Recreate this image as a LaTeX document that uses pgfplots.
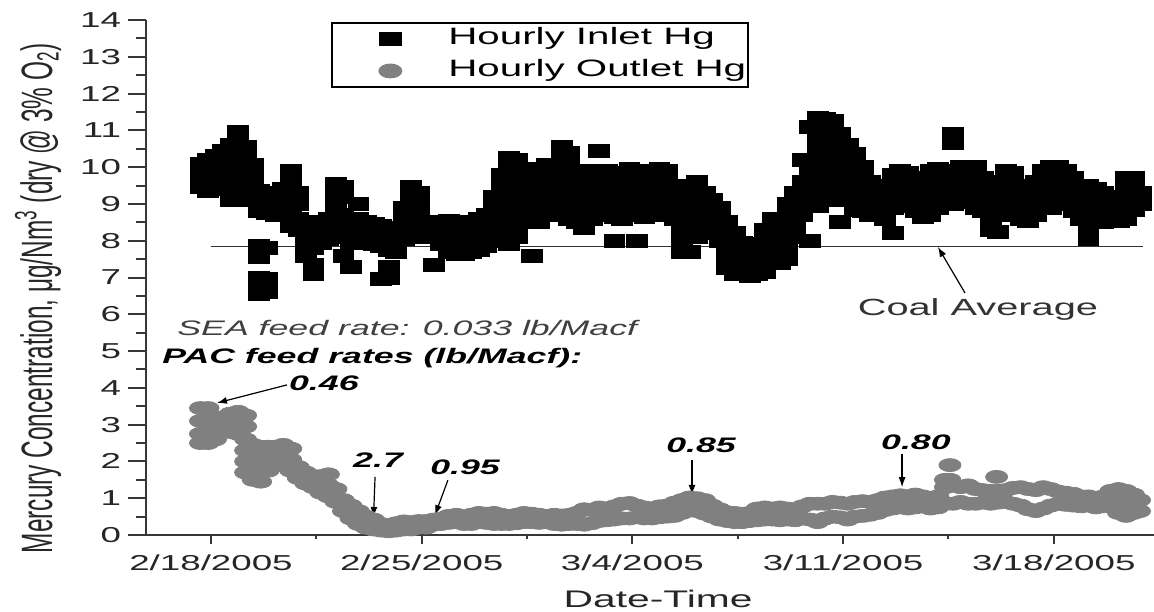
\documentclass[border=0pt]{standalone}
\usepackage{fontspec}
\setmainfont{Liberation Sans}[FakeStretch=1.7]
\newfontfamily\ylabfont{Liberation Sans}
\usepackage{graphicx}
\usepackage{pgfplots}
\pgfplotsset{compat=1.18}
\usetikzlibrary{arrows.meta}
\definecolor{hggray}{RGB}{128,128,128}
\definecolor{axgray}{RGB}{55,55,55}
\pgfplotsset{mylegimg/.style={legend image code/.code={\path[draw=none,fill=none] (0pt,0pt) (58pt,0pt); \draw[##1] plot coordinates {(29pt,0pt)};}}}
\begin{document}
\begin{tikzpicture}
\path[use as bounding box] (-73pt,-38pt) rectangle (504pt,267.5pt);
\begin{axis}[
  at={(0,0)}, anchor=south west,
  scale only axis, width=504pt, height=257.5pt,
  xmin=-2.16, xmax=31.33, ymin=0, ymax=14,
  axis x line*=bottom, axis y line*=left,
  axis line style={line width=1.1pt, axgray, -},
  xtick={0,7,14,21,28},
  xticklabels={2/18/2005,2/25/2005,3/4/2005,3/11/2005,3/18/2005},
  minor xtick={3.5,10.5,17.5,24.5},
  ytick={0,1,...,14}, minor ytick={0.5,1.5,...,13.5},
  yticklabels={0,1,2,3,4,5,6,7,8,9,10,11,12,13,14},
  tick align=outside,
  major tick length=9pt, minor tick length=5pt,
  xtick style={/pgfplots/major tick length=4.5pt, /pgfplots/minor tick length=2.2pt},
  every tick/.style={axgray, line width=1pt},
  /pgf/number format/assume math mode=true,
  tick label style={font=\fontsize{10.8}{12}\selectfont, text=black!85},
  xticklabel style={yshift=2.8pt},
  xlabel={Date-Time},
  xlabel style={at={(0.508,0)}, anchor=center, yshift=-32pt, font=\fontsize{12}{14}\selectfont, text=black!85},
  ylabel={\scalebox{1}[1.8]{\ylabfont\fontsize{12.2}{14}\selectfont Mercury Concentration, μg/Nm\textsuperscript{3} (dry @ 3\% O\textsubscript{2})}},
  ylabel style={at={(0,0.46)}, anchor=center, yshift=54pt, text=black!85},
  legend style={at={(0.184,0.996)}, anchor=north west, draw=black, line width=0.9pt, fill=white,
    font=\fontsize{11.85}{13}\selectfont, inner xsep=0pt, inner ysep=2.5pt, row sep=5pt,
    nodes={inner xsep=0pt, inner ysep=0pt, text height=8.5pt, text depth=2.5pt}},
  legend cell align=left,
]
\addplot[only marks, mark=square*, mark size=3.25pt, mark options={xscale=1.6, fill=black, draw=black}, mylegimg]
coordinates {
(-0.35,10.1)(-0.35,9.8)(-0.35,9.45)
(-0.1,10.2)(-0.1,9.9)(-0.1,9.6)(-0.1,9.35)
(0.15,10.3)(0.15,10.0)(0.15,9.7)(0.15,9.4)
(0.4,10.45)(0.4,10.15)(0.4,9.85)(0.4,9.5)
(0.65,10.6)(0.65,10.3)(0.65,10.0)(0.65,9.7)(0.65,9.1)
(0.9,10.95)(0.9,10.65)(0.9,10.35)(0.9,10.05)(0.9,9.75)(0.9,9.45)
(1.15,10.55)(1.15,10.25)(1.15,9.95)(1.15,9.6)(1.15,9.3)
(1.4,10.05)(1.4,9.75)(1.4,9.4)(1.4,9.1)
(1.6,9.35)(1.6,9.05)(1.6,8.8)(1.6,7.85)(1.6,7.55)(1.6,7.0)(1.6,6.75)(1.6,6.55)
(1.85,9.3)(1.85,9.0)(1.85,8.75)(1.85,7.8)(1.85,6.95)(1.85,6.6)
(2.15,9.2)(2.15,8.95)(2.15,8.7)
(2.4,9.4)(2.4,9.1)(2.4,8.8)
(2.65,9.9)(2.65,9.6)(2.65,9.3)(2.65,9.0)(2.65,8.7)(2.65,8.4)
(2.9,9.3)(2.9,9.0)(2.9,8.6)(2.9,8.3)
(3.15,8.5)(3.15,8.2)(3.15,7.9)(3.15,7.6)
(3.4,8.4)(3.4,8.1)(3.4,7.8)(3.4,7.35)(3.4,7.1)
(3.65,8.5)(3.65,8.2)(3.65,7.95)
(3.9,8.6)(3.9,8.3)(3.9,8.05)
(4.15,9.55)(4.15,9.25)(4.15,8.95)(4.15,8.65)(4.15,8.3)
(4.4,9.45)(4.4,9.2)(4.4,8.7)(4.4,8.4)(4.4,8.1)(4.4,7.6)
(4.65,8.55)(4.65,8.25)(4.65,7.95)(4.65,7.3)
(4.9,9.0)(4.9,8.6)(4.9,8.3)(4.9,8.0)
(5.15,8.5)(5.15,8.2)(5.15,7.95)
(5.4,8.45)(5.4,8.15)(5.4,7.9)
(5.65,8.4)(5.65,8.1)(5.65,7.85)(5.65,6.95)
(5.9,8.35)(5.9,8.05)(5.9,7.75)(5.9,7.3)(5.9,7.0)
(6.15,8.3)(6.15,8.0)(6.15,7.7)
(6.4,8.9)(6.4,8.6)(6.4,8.3)(6.4,8.05)
(6.65,9.45)(6.65,9.15)(6.65,8.85)(6.65,8.55)(6.65,8.25)
(6.9,9.3)(6.9,9.0)(6.9,8.7)(6.9,8.4)(6.9,8.1)
(7.15,8.5)(7.15,8.2)
(7.4,8.45)(7.4,8.15)(7.4,7.35)
(7.65,8.5)(7.65,8.2)(7.65,7.9)
(7.9,8.55)(7.9,8.25)(7.9,7.95)(7.9,7.7)
(8.15,8.5)(8.15,8.2)(8.15,7.9)(8.15,7.65)
(8.4,8.45)(8.4,8.15)(8.4,7.85)(8.4,7.65)
(8.65,8.5)(8.65,8.2)(8.65,7.9)(8.65,7.7)
(8.9,8.6)(8.9,8.3)(8.9,8.0)(8.9,7.75)
(9.15,8.7)(9.15,8.4)(9.15,8.1)(9.15,7.85)
(9.4,9.2)(9.4,8.9)(9.4,8.6)(9.4,8.3)(9.4,8.0)
(9.65,9.8)(9.65,9.5)(9.65,9.2)(9.65,8.9)(9.65,8.6)(9.65,8.3)
(9.9,10.25)(9.9,9.95)(9.9,9.65)(9.9,9.35)(9.9,9.05)(9.9,8.75)(9.9,8.45)(9.9,8.15)(9.9,7.9)
(10.15,10.2)(10.15,9.9)(10.15,9.6)(10.15,9.3)(10.15,9.0)(10.15,8.7)(10.15,8.4)(10.15,8.1)
(10.4,9.8)(10.4,9.5)(10.4,9.2)(10.4,8.9)(10.4,8.6)
(10.65,9.9)(10.65,9.6)(10.65,9.3)(10.65,9.0)(10.65,8.7)(10.65,7.6)
(10.9,9.95)(10.9,9.65)(10.9,9.35)(10.9,9.05)(10.9,8.75)(10.9,8.5)
(11.15,10.05)(11.15,9.75)(11.15,9.45)(11.15,9.15)(11.15,8.85)
(11.4,9.9)(11.4,9.6)(11.4,9.3)(11.4,9.0)(11.4,8.7)
(11.65,10.55)(11.65,10.25)(11.65,9.95)(11.65,9.65)(11.65,9.35)(11.65,9.05)(11.65,8.75)
(11.9,10.4)(11.9,10.1)(11.9,9.8)(11.9,9.5)(11.9,9.2)(11.9,8.9)(11.9,8.6)
(12.15,9.7)(12.15,9.4)(12.15,9.1)(12.15,8.8)(12.15,8.5)
(12.4,9.9)(12.4,9.6)(12.4,9.3)(12.4,9.0)(12.4,8.7)(12.4,8.35)
(12.65,9.8)(12.65,9.5)(12.65,9.2)(12.65,8.9)(12.65,8.6)
(12.9,10.45)(12.9,9.9)(12.9,9.6)(12.9,9.3)(12.9,9.0)(12.9,8.7)
(13.15,9.9)(13.15,9.6)(13.15,9.3)(13.15,9.0)(13.15,8.7)
(13.4,9.85)(13.4,9.55)(13.4,9.25)(13.4,8.95)(13.4,8.65)(13.4,8.0)
(13.65,9.8)(13.65,9.5)(13.65,9.2)(13.65,8.9)(13.65,8.6)
(13.9,9.95)(13.9,9.65)(13.9,9.35)(13.9,9.05)(13.9,8.75)
(14.15,9.9)(14.15,9.6)(14.15,9.3)(14.15,9.0)(14.15,8.7)(14.15,8.0)
(14.4,9.85)(14.4,9.55)(14.4,9.25)(14.4,8.95)(14.4,8.65)
(14.65,9.9)(14.65,9.6)(14.65,9.3)(14.65,9.0)(14.65,8.7)
(14.9,9.95)(14.9,9.65)(14.9,9.35)(14.9,9.05)(14.9,8.75)
(15.15,9.9)(15.15,9.6)(15.15,9.3)(15.15,9.0)(15.15,8.7)
(15.4,9.5)(15.4,9.2)(15.4,8.9)(15.4,8.6)
(15.65,9.2)(15.65,8.9)(15.65,8.6)(15.65,8.3)(15.65,8.0)(15.65,7.7)
(15.9,9.3)(15.9,9.0)(15.9,8.7)(15.9,8.4)(15.9,8.1)(15.9,7.7)
(16.15,9.6)(16.15,9.3)(16.15,9.0)(16.15,8.7)(16.15,8.4)(16.15,8.1)
(16.4,9.3)(16.4,9.0)(16.4,8.7)(16.4,8.4)
(16.65,9.1)(16.65,8.8)(16.65,8.5)(16.65,8.2)
(16.9,8.9)(16.9,8.6)(16.9,8.3)(16.9,8.0)
(17.15,8.5)(17.15,8.2)(17.15,7.9)(17.15,7.6)(17.15,7.25)
(17.4,8.2)(17.4,7.9)(17.4,7.6)(17.4,7.3)(17.4,7.1)
(17.65,7.95)(17.65,7.65)(17.65,7.35)(17.65,7.1)
(17.9,7.9)(17.9,7.6)(17.9,7.3)(17.9,7.05)
(18.15,7.9)(18.15,7.6)(18.15,7.3)(18.15,7.1)
(18.4,8.3)(18.4,8.0)(18.4,7.7)(18.4,7.4)(18.4,7.15)
(18.65,8.6)(18.65,8.3)(18.65,8.0)(18.65,7.7)(18.65,7.4)
(18.9,8.6)(18.9,8.3)(18.9,8.0)(18.9,7.7)(18.9,7.4)
(19.15,9.0)(19.15,8.7)(19.15,8.4)(19.15,8.1)(19.15,7.8)(19.15,7.5)
(19.4,9.3)(19.4,9.0)(19.4,8.7)(19.4,8.4)(19.4,8.1)
(19.65,10.2)(19.65,9.6)(19.65,9.3)(19.65,9.0)(19.65,8.7)
(19.9,11.1)(19.9,10.2)(19.9,9.9)(19.9,9.6)(19.9,9.3)(19.9,9.0)(19.9,8.0)
(20.15,11.35)(20.15,11.05)(20.15,10.75)(20.15,10.45)(20.15,10.15)(20.15,9.85)(20.15,9.55)(20.15,9.25)(20.15,8.95)
(20.4,11.3)(20.4,11.0)(20.4,10.7)(20.4,10.4)(20.4,10.1)(20.4,9.8)(20.4,9.5)(20.4,9.2)
(20.65,11.25)(20.65,10.95)(20.65,10.65)(20.65,10.35)(20.65,10.05)(20.65,9.75)(20.65,9.45)
(20.9,10.9)(20.9,10.6)(20.9,10.3)(20.9,10.0)(20.9,9.7)(20.9,9.4)(20.9,9.1)(20.9,8.5)
(21.15,10.6)(21.15,10.3)(21.15,10.0)(21.15,9.7)(21.15,9.4)(21.15,9.1)
(21.4,10.35)(21.4,10.05)(21.4,9.75)(21.4,9.45)(21.4,9.15)(21.4,8.85)
(21.65,10.0)(21.65,9.7)(21.65,9.4)(21.65,9.1)(21.65,8.8)
(21.9,9.6)(21.9,9.3)(21.9,9.0)(21.9,8.7)
(22.15,9.4)(22.15,9.1)(22.15,8.8)
(22.4,9.5)(22.4,9.2)(22.4,8.9)(22.4,8.6)
(22.65,9.8)(22.65,9.5)(22.65,9.2)(22.65,8.9)(22.65,8.2)
(22.9,9.9)(22.9,9.6)(22.9,9.3)(22.9,9.0)
(23.15,9.85)(23.15,9.55)(23.15,9.25)(23.15,8.95)
(23.4,9.7)(23.4,9.4)(23.4,9.1)(23.4,8.8)
(23.65,9.5)(23.65,9.2)(23.65,8.9)(23.65,8.65)
(23.9,9.9)(23.9,9.6)(23.9,9.3)(23.9,9.0)(23.9,8.7)
(24.15,9.95)(24.15,9.65)(24.15,9.35)(24.15,9.05)(24.15,8.9)
(24.4,9.9)(24.4,9.6)(24.4,9.3)(24.4,9.0)
(24.65,10.9)(24.65,10.65)(24.65,9.9)(24.65,9.6)(24.65,9.3)(24.65,9.0)
(24.9,10.0)(24.9,9.7)(24.9,9.4)(24.9,9.1)
(25.15,9.95)(25.15,9.65)(25.15,9.35)(25.15,9.05)
(25.4,10.0)(25.4,9.7)(25.4,9.4)(25.4,9.1)(25.4,8.9)
(25.65,9.7)(25.65,9.4)(25.65,9.1)(25.65,8.8)
(25.9,9.5)(25.9,9.2)(25.9,8.9)(25.9,8.6)(25.9,8.3)
(26.15,9.6)(26.15,9.3)(26.15,9.0)(26.15,8.7)(26.15,8.25)
(26.4,9.9)(26.4,9.6)(26.4,9.3)(26.4,9.0)(26.4,8.7)
(26.65,9.85)(26.65,9.55)(26.65,9.25)(26.65,8.95)(26.65,8.75)
(26.9,9.5)(26.9,9.2)(26.9,8.9)(26.9,8.6)
(27.15,9.4)(27.15,9.1)(27.15,8.8)(27.15,8.55)
(27.4,9.6)(27.4,9.3)(27.4,9.0)(27.4,8.7)
(27.65,9.9)(27.65,9.6)(27.65,9.3)(27.65,9.0)
(27.9,10.0)(27.9,9.7)(27.9,9.4)(27.9,9.1)(27.9,8.9)
(28.15,10.0)(28.15,9.7)(28.15,9.4)(28.15,9.1)
(28.4,9.9)(28.4,9.6)(28.4,9.3)(28.4,9.0)
(28.65,9.7)(28.65,9.4)(28.65,9.1)(28.65,8.8)
(28.9,9.5)(28.9,9.2)(28.9,8.9)(28.9,8.6)
(29.15,9.5)(29.15,9.2)(29.15,8.9)(29.15,8.6)(29.15,8.3)(29.15,8.05)
(29.4,9.4)(29.4,9.1)(29.4,8.8)(29.4,8.5)
(29.65,9.3)(29.65,9.0)(29.65,8.7)(29.65,8.5)
(29.9,9.2)(29.9,8.9)(29.9,8.6)
(30.15,9.1)(30.15,8.8)(30.15,8.55)
(30.4,9.7)(30.4,9.4)(30.4,9.1)(30.4,8.8)(30.4,8.6)
(30.65,9.7)(30.65,9.4)(30.65,9.1)(30.65,8.85)
(30.9,9.3)(30.9,9.0)
};
\addlegendentry{\makebox[150pt][l]{Hourly Inlet Hg}}
\addplot[only marks, mark=*, mark size=3.25pt, mark options={xscale=1.7, fill=hggray, draw=hggray}, mylegimg]
coordinates {
(-0.35,3.45)(-0.35,3.1)(-0.35,2.75)(-0.35,2.5)
(-0.1,3.45)(-0.1,3.1)(-0.1,2.8)(-0.1,2.5)
(0.15,3.2)(0.15,2.9)(0.15,2.6)
(0.4,3.15)(0.4,2.85)
(0.65,3.3)(0.65,3.0)(0.65,2.8)
(0.9,3.35)(0.9,3.05)(0.9,2.75)
(1.15,3.25)(1.15,2.95)(1.15,2.6)(1.15,2.3)(1.15,2.0)(1.15,1.7)
(1.4,2.45)(1.4,2.15)(1.4,1.85)(1.4,1.5)
(1.65,2.4)(1.65,2.1)(1.65,1.85)(1.65,1.45)
(1.9,2.4)(1.9,2.1)(1.9,1.75)
(2.15,2.4)(2.15,2.1)
(2.4,2.45)(2.4,2.15)(2.4,1.9)
(2.65,2.35)(2.65,2.05)(2.65,1.75)
(2.9,1.85)(2.9,1.55)
(3.15,1.7)(3.15,1.4)
(3.4,1.6)(3.4,1.3)
(3.65,1.6)(3.65,1.3)(3.65,1.15)
(3.9,1.65)(3.9,1.35)(3.9,1.05)
(4.15,1.25)(4.15,0.9)
(4.4,0.95)(4.4,0.65)
(4.65,0.8)(4.65,0.45)
(4.9,0.65)(4.9,0.3)
(5.15,0.5)(5.15,0.2)
(5.4,0.42)(5.4,0.15)
(5.65,0.3)(5.65,0.12)
(5.9,0.22)(5.9,0.1)
(6.15,0.32)(6.15,0.12)
(6.4,0.37)(6.4,0.15)
(6.65,0.35)(6.65,0.15)
(6.9,0.38)(6.9,0.2)
(7.15,0.38)(7.15,0.2)
(7.4,0.42)(7.4,0.28)
(7.65,0.45)(7.65,0.3)
(7.9,0.52)(7.9,0.33)
(8.15,0.55)(8.15,0.35)
(8.4,0.5)(8.4,0.3)
(8.65,0.55)(8.65,0.3)
(8.9,0.6)(8.9,0.35)
(9.15,0.58)(9.15,0.33)
(9.4,0.6)(9.4,0.3)
(9.65,0.55)(9.65,0.3)
(9.9,0.52)(9.9,0.3)
(10.15,0.55)(10.15,0.32)
(10.4,0.6)(10.4,0.35)
(10.65,0.58)(10.65,0.35)
(10.9,0.55)(10.9,0.33)
(11.15,0.52)(11.15,0.35)
(11.4,0.55)(11.4,0.3)
(11.65,0.53)(11.65,0.28)
(11.9,0.55)(11.9,0.3)
(12.15,0.6)(12.15,0.3)
(12.4,0.7)(12.4,0.28)
(12.65,0.68)(12.65,0.32)
(12.9,0.75)(12.9,0.38)
(13.15,0.72)(13.15,0.4)
(13.4,0.78)(13.4,0.42)
(13.65,0.85)(13.65,0.45)
(13.9,0.87)(13.9,0.45)
(14.15,0.8)(14.15,0.48)
(14.4,0.75)(14.4,0.45)
(14.65,0.72)(14.65,0.45)
(14.9,0.78)(14.9,0.48)
(15.15,0.8)(15.15,0.5)
(15.4,0.88)(15.4,0.52)
(15.65,0.95)(15.65,0.6)
(15.9,1.02)(15.9,0.68)
(16.15,1.0)(16.15,0.65)
(16.4,0.95)(16.4,0.58)
(16.65,0.8)(16.65,0.5)
(16.9,0.7)(16.9,0.42)
(17.15,0.62)(17.15,0.38)
(17.4,0.6)(17.4,0.35)
(17.65,0.58)(17.65,0.35)
(17.9,0.6)(17.9,0.38)
(18.15,0.72)(18.15,0.4)
(18.4,0.75)(18.4,0.42)
(18.65,0.72)(18.65,0.42)
(18.9,0.75)(18.9,0.4)
(19.15,0.72)(19.15,0.42)
(19.4,0.7)(19.4,0.4)
(19.65,0.78)(19.65,0.45)
(19.9,0.85)(19.9,0.42)
(20.15,0.85)(20.15,0.35)
(20.4,0.85)(20.4,0.45)
(20.65,0.9)(20.65,0.5)
(20.9,0.88)(20.9,0.48)
(21.15,0.85)(21.15,0.42)
(21.4,0.9)(21.4,0.5)
(21.65,0.92)(21.65,0.52)
(21.9,0.9)(21.9,0.55)
(22.15,0.95)(22.15,0.6)
(22.4,1.02)(22.4,0.68)
(22.65,1.05)(22.65,0.72)
(22.9,1.08)(22.9,0.75)
(23.15,1.05)(23.15,0.72)
(23.4,1.1)(23.4,0.75)
(23.65,1.05)(23.65,0.78)
(23.9,1.0)(23.9,0.72)
(24.15,1.05)(24.15,0.75)
(24.4,1.3)(24.4,0.85)(24.4,1.5)
(24.55,1.9)(24.55,1.5)
(24.65,1.35)(24.65,0.85)
(24.9,1.3)(24.9,0.9)
(25.15,1.35)(25.15,0.85)
(25.4,1.25)(25.4,0.85)
(25.65,1.22)(25.65,0.88)
(25.9,1.2)(25.9,0.85)
(26.1,1.58)
(26.15,1.2)(26.15,0.88)
(26.4,1.22)(26.4,0.9)
(26.65,1.28)(26.65,0.85)
(26.9,1.3)(26.9,0.8)
(27.15,1.25)(27.15,0.7)
(27.4,1.22)(27.4,0.65)
(27.65,1.3)(27.65,0.72)
(27.9,1.25)(27.9,0.8)
(28.15,1.18)(28.15,0.85)
(28.4,1.15)(28.4,0.82)
(28.65,1.12)(28.65,0.8)
(28.9,1.05)(28.9,0.78)
(29.15,1.05)(29.15,0.8)
(29.4,1.0)(29.4,0.75)
(29.65,1.05)(29.65,0.78)
(29.9,1.2)(29.9,0.8)
(30.15,1.25)(30.15,0.9)(30.15,0.6)
(30.4,1.2)(30.4,0.85)(30.4,0.52)
(30.65,1.1)(30.65,0.75)(30.65,0.6)
(30.85,0.95)(30.85,0.65)
};
\addlegendentry{\makebox[150pt][l]{Hourly Outlet Hg}}
\addplot[black!80, line width=0.7pt, forget plot] coordinates {(0,7.85) (30.96,7.85)};
\node[anchor=west, inner sep=0pt, font=\fontsize{10.5}{12}\selectfont\itshape, text=black!75] at (axis cs:-1.13,5.62) {SEA feed rate: 0.033 lb/Macf};
\node[anchor=west, inner sep=0pt, font=\fontsize{10.5}{12}\selectfont\bfseries\itshape] at (axis cs:-1.63,4.81) {PAC feed rates (lb/Macf):};
\node[inner sep=0pt, font=\fontsize{10.5}{12}\selectfont\bfseries\itshape] at (axis cs:3.75,4.13) {0.46};
\node[inner sep=0pt, font=\fontsize{10.5}{12}\selectfont\bfseries\itshape] at (axis cs:5.55,2.04) {2.7};
\node[inner sep=0pt, font=\fontsize{10.5}{12}\selectfont\bfseries\itshape] at (axis cs:8.44,1.85) {0.95};
\node[inner sep=0pt, font=\fontsize{10.5}{12}\selectfont\bfseries\itshape] at (axis cs:16.28,2.45) {0.85};
\node[inner sep=0pt, font=\fontsize{10.5}{12}\selectfont\bfseries\itshape] at (axis cs:23.42,2.53) {0.80};
\node[inner sep=0pt, font=\fontsize{11.7}{13}\selectfont, text=black!80] at (axis cs:25.48,6.14) {Coal Average};
\draw[-{Latex[length=5pt,width=3.5pt]}, line width=0.6pt] (axis cs:2.52,4.08) -- (axis cs:0.2,3.59);
\draw[-{Latex[length=5pt,width=3.5pt]}, line width=0.6pt] (axis cs:5.45,1.58) -- (axis cs:5.4,0.49);
\draw[-{Latex[length=5pt,width=3.5pt]}, line width=0.6pt] (axis cs:7.87,1.49) -- (axis cs:7.44,0.54);
\draw[-{Latex[length=5pt,width=3.5pt]}, line width=0.6pt] (axis cs:15.98,2.04) -- (axis cs:15.98,1.09);
\draw[-{Latex[length=5pt,width=3.5pt]}, line width=0.6pt] (axis cs:22.96,2.2) -- (axis cs:22.96,1.3);
\draw[-{Latex[length=5pt,width=3.5pt]}, line width=0.6pt] (axis cs:25.05,6.58) -- (axis cs:24.15,7.83);
\end{axis}
\end{tikzpicture}
\end{document}
